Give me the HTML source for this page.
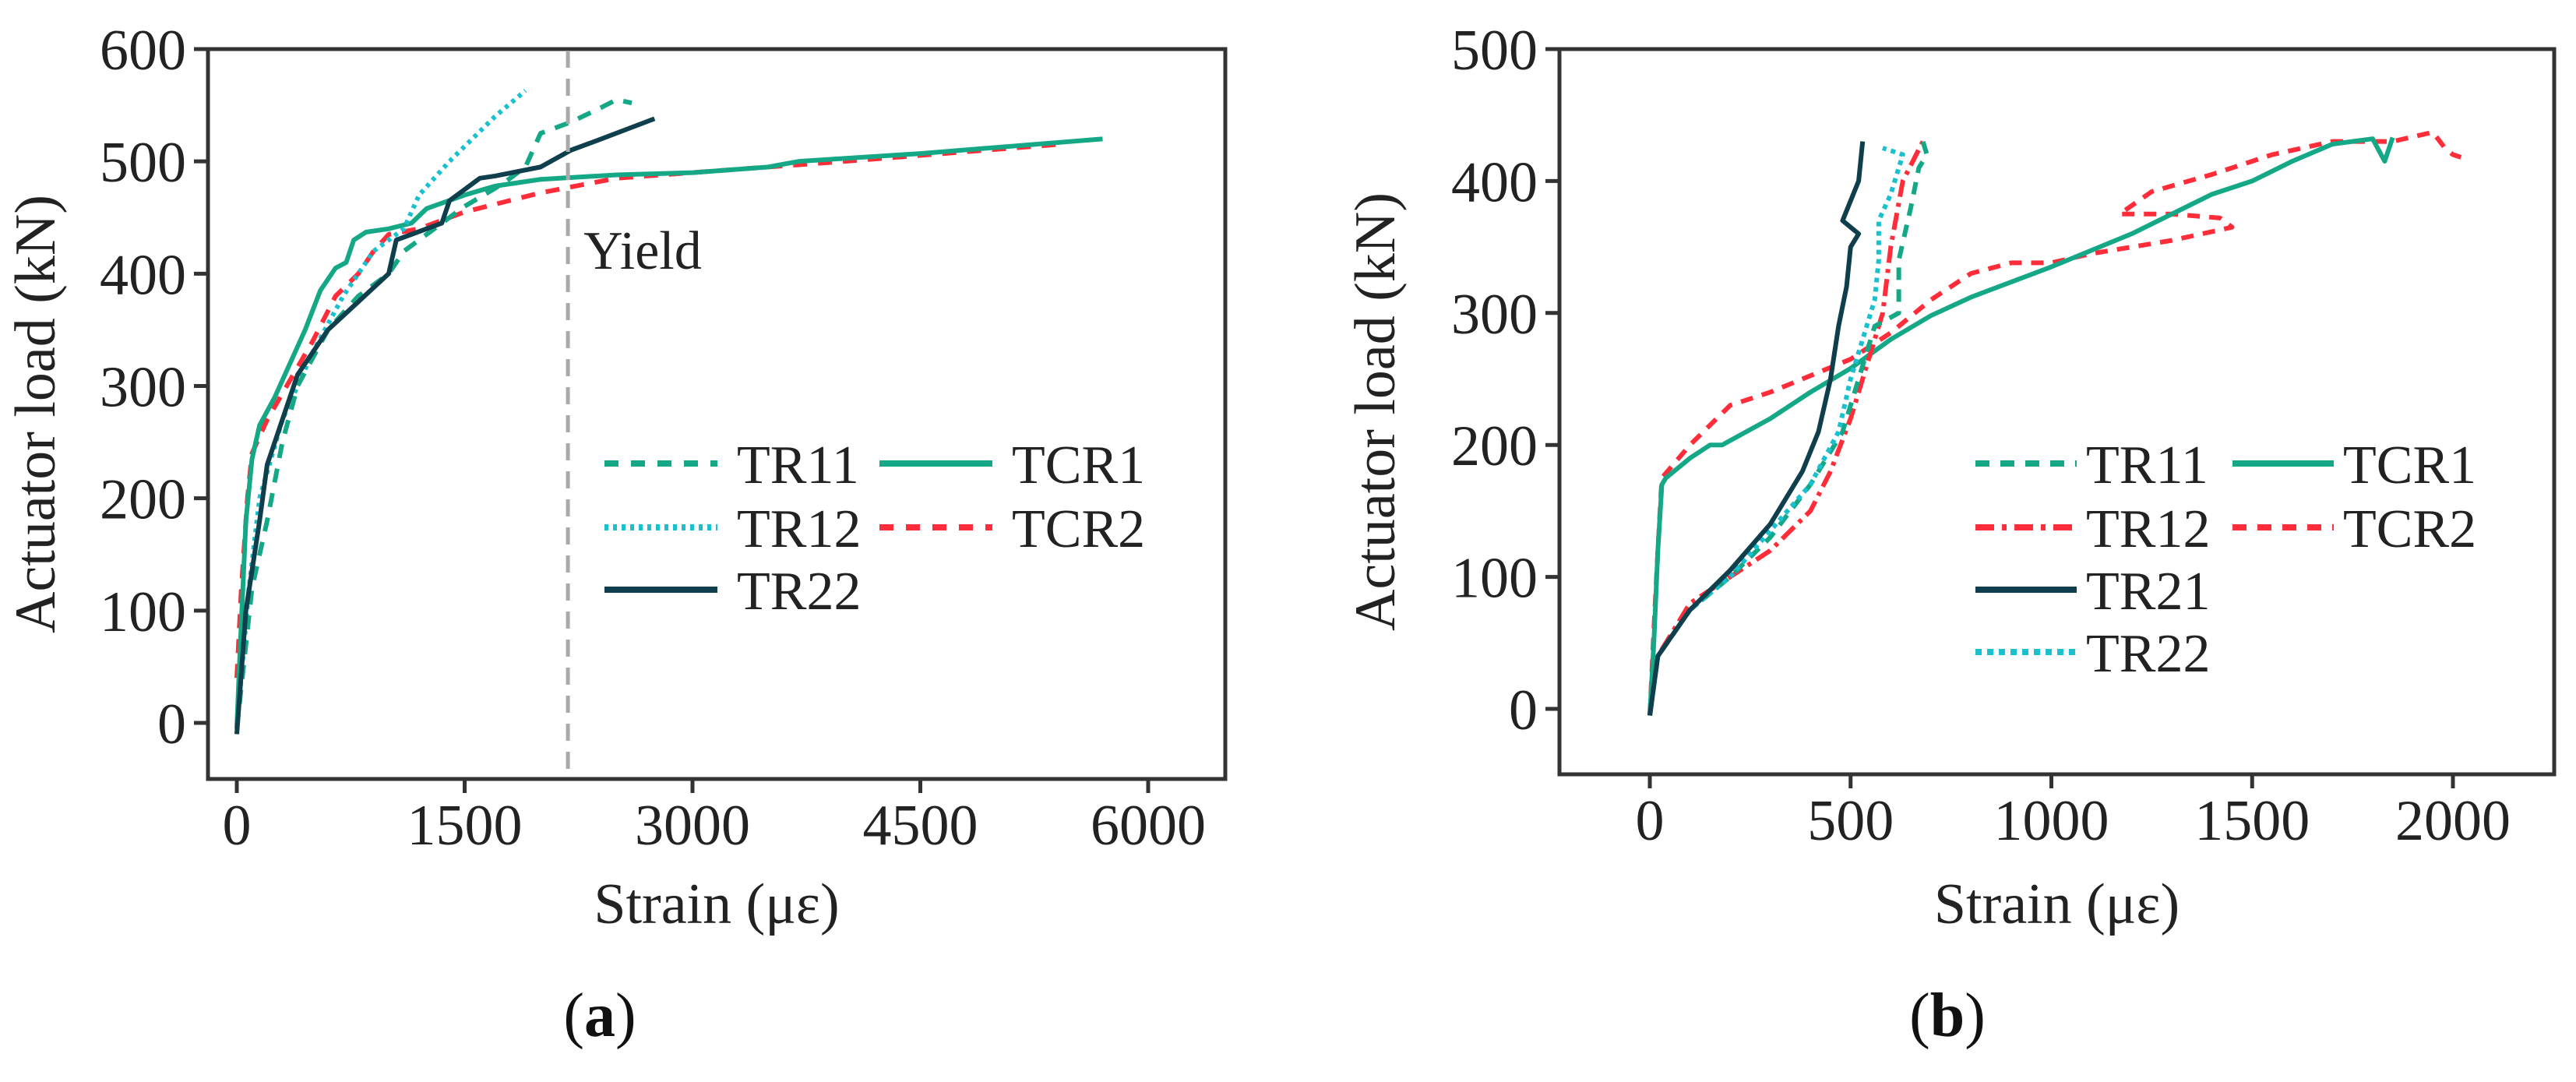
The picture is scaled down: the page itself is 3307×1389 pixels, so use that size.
<!DOCTYPE html>
<html><head><meta charset="utf-8">
<style>
html,body{margin:0;padding:0;background:#fff;}
svg{display:block;font-family:"Liberation Serif",serif;}
</style></head>
<body>
<svg id="fig" width="3307" height="1389" viewBox="0 0 3307 1389" xmlns="http://www.w3.org/2000/svg"></svg>
<script>
// ---------- Panel (a) data ----------
const aXTicks = [0,1500,3000,4500,6000];
const aYTicks = [0,100,200,300,400,500,600];
const aYield = 2180;
const aTR11 = [[0,-5],[100,120],[200,180],[300,250],[400,300],[600,350],[800,380],[1000,400],[1100,420],[1300,440],[1500,460],[1750,480],[1900,495],[2000,525],[2200,535],[2400,548],[2500,555],[2600,552]];
const aTR12 = [[0,-5],[80,120],[150,200],[300,270],[500,330],[700,380],[900,420],[1100,440],[1200,470],[1400,500],[1550,520],[1700,540],[1900,563]];
const aTR22 = [[0,-10],[60,100],[150,180],[200,230],[300,270],[400,310],[600,350],[800,375],[1000,400],[1050,430],[1150,435],[1350,445],[1400,465],[1600,485],[1700,487],[2000,495],[2200,510],[2400,520],[2750,538]];
const aTCR1 = [[0,-5],[20,60],[60,180],[100,235],[150,265],[250,290],[350,320],[450,350],[550,385],[650,405],[720,410],[770,430],[850,437],[1000,440],[1150,445],[1250,458],[1500,470],[1700,478],[2000,484],[2500,488],[3000,490],[3500,495],[3700,500],[4500,507],[5700,520]];
const aTCR2 = [[0,40],[30,120],[70,200],[100,240],[200,270],[350,305],[500,340],[650,380],[800,400],[900,420],[1000,435],[1200,440],[1500,455],[2000,472],[2500,485],[3000,490],[4000,500],[5400,515]];
// ---------- Panel (b) data ----------
const bXTicks = [0,500,1000,1500,2000];
const bYTicks = [0,100,200,300,400,500];
const bTR11 = [[0,-5],[20,40],[100,75],[200,100],[300,130],[400,170],[480,210],[520,250],[560,290],[620,300],[620,340],[650,380],[670,410],[690,420],[680,430]];
const bTR12 = [[0,-5],[20,40],[100,80],[200,100],[300,120],[400,150],[450,180],[500,220],[550,270],[580,300],[600,350],[630,400],[680,430]];
const bTR21 = [[0,-5],[20,40],[100,75],[200,105],[300,140],[380,180],[420,210],[450,250],[470,290],[490,320],[500,350],[520,360],[480,370],[500,385],[520,400],[530,430]];
const bTR22 = [[0,-5],[20,40],[100,75],[200,100],[300,135],[400,170],[470,210],[500,250],[530,280],[560,310],[570,340],[570,370],[600,390],[630,420],[580,425]];
const bTCR1 = [[0,-5],[10,50],[20,120],[30,170],[40,175],[100,190],[150,200],[180,200],[300,220],[400,240],[500,258],[600,280],[700,298],[800,312],[1000,335],[1200,360],[1400,390],[1500,400],[1600,415],[1700,428],[1800,432],[1830,415],[1850,433]];
const bTCR2 = [[0,-5],[10,60],[20,120],[30,175],[100,200],[200,230],[300,240],[500,265],[600,285],[700,310],[800,330],[900,338],[1000,338],[1100,345],[1200,350],[1300,355],[1450,365],[1420,372],[1300,375],[1170,375],[1250,392],[1400,405],[1550,420],[1700,430],[1850,430],[1950,437],[1980,425],[2000,420],[2020,418]];

const GREEN="#14a886", RED="#ff2d3a", CYAN="#19c0d0", DARK="#0f3f4c";
const NS="http://www.w3.org/2000/svg";
const svg=document.getElementById('fig');
function el(tag,attrs,parent){const e=document.createElementNS(NS,tag);for(const k in attrs)e.setAttribute(k,attrs[k]);(parent||svg).appendChild(e);return e;}

function panel(cfg){
  const g=el('g',{});
  
  
  const sx=v=>cfg.x0+v*cfg.kx, sy=v=>cfg.y0-v*cfg.ky;
  const fr=el('rect',{x:cfg.L,y:cfg.T,width:cfg.R-cfg.L,height:cfg.B-cfg.T,fill:'none',stroke:'#333','stroke-width':5},g);
  
  
  cfg.xt.forEach(v=>{
    const t=el('line',{x1:sx(v),x2:sx(v),y1:cfg.B,y2:cfg.B+18,stroke:'#333','stroke-width':5},g);
    
    
    const tx=el('text',{x:sx(v),y:cfg.B+84,'font-size':74,'text-anchor':'middle',fill:'#222'},g);
    tx.textContent=v;
    
    
  });
  cfg.yt.forEach(v=>{
    const t=el('line',{x1:cfg.L-18,x2:cfg.L,y1:sy(v),y2:sy(v),stroke:'#333','stroke-width':5},g);
    
    
    const tx=el('text',{x:cfg.L-28,y:sy(v)+26,'font-size':74,'text-anchor':'end',fill:'#222'},g);
    tx.textContent=v;
    
    
  });
  const xt=el('text',{x:(cfg.L+cfg.R)/2,y:1185,'font-size':74,'text-anchor':'middle',fill:'#222'},g);
  xt.textContent='Strain (με)';
  
  
  const yt=el('text',{x:0,y:0,'font-size':74,'text-anchor':'middle',fill:'#222',transform:`translate(${cfg.ytx},${(cfg.T+cfg.B)/2}) rotate(-90)`},g);
  yt.textContent='Actuator load (kN)';
  
  
  const cap=el('text',{x:cfg.capx,y:1330,'font-size':80,'text-anchor':'middle',fill:'#111'},g);
  cap.innerHTML='(<tspan font-weight="bold">'+cfg.cap+'</tspan>)';
  
  
  cfg.series.forEach(s=>{
    const p=el('polyline',{points:s.d.map(q=>sx(q[0])+','+sy(q[1])).join(' '),fill:'none',stroke:s.c,'stroke-width':6,'stroke-linejoin':'round','stroke-dasharray':s.dash||'none'},g);
    
    
  });
  cfg.legend.forEach(l=>{
    const ln=el('line',{x1:l.x,x2:l.x+cfg.lw,y1:l.y,y2:l.y,stroke:l.c,'stroke-width':8,'stroke-dasharray':l.dash||'none'},g);
    
    
    const t=el('text',{x:l.x+cfg.lt,y:l.y+25,'font-size':70,fill:'#222'},g);
    t.textContent=l.n;
    
    
  });
  return {g,sx,sy};
}

const A=panel({name:'chart-a',L:267,R:1573,T:63,B:1000,x0:304,kx:1170/6000,y0:928,ky:865/600,xt:aXTicks,yt:aYTicks,ytx:70,capx:770,cap:'a',lw:145,lt:170,
  series:[
    {n:'TCR2',d:aTCR2,c:RED,dash:'18 14'},
    {n:'TCR1',d:aTCR1,c:GREEN},
    {n:'TR12',d:aTR12,c:CYAN,dash:'5 6'},
    {n:'TR11',d:aTR11,c:GREEN,dash:'18 14'},
    {n:'TR22',d:aTR22,c:DARK}],
  legend:[
    {n:'TR11',x:776,y:595,c:GREEN,dash:'18 16'},
    {n:'TR12',x:776,y:677,c:CYAN,dash:'5 6'},
    {n:'TR22',x:776,y:757,c:DARK},
    {n:'TCR1',x:1129,y:595,c:GREEN},
    {n:'TCR2',x:1129,y:677,c:RED,dash:'18 16'}]});
// yield line
const yl=el('line',{x1:A.sx(aYield),x2:A.sx(aYield),y1:65,y2:998,stroke:'#aaa','stroke-width':5,'stroke-dasharray':'22 14'},A.g);


const ylt=el('text',{x:A.sx(aYield)+20,y:345,'font-size':70,fill:'#222'},A.g);
ylt.textContent='Yield';



panel({name:'chart-b',L:2002,R:3279,T:63,B:994,x0:2118,kx:1031/2000,y0:910,ky:847/500,xt:bXTicks,yt:bYTicks,ytx:1790,capx:2500,cap:'b',lw:130,lt:142,
  series:[
    {n:'TCR2',d:bTCR2,c:RED,dash:'16 12'},
    {n:'TCR1',d:bTCR1,c:GREEN},
    {n:'TR12',d:bTR12,c:RED,dash:'22 8 5 8'},
    {n:'TR11',d:bTR11,c:GREEN,dash:'16 12'},
    {n:'TR22',d:bTR22,c:CYAN,dash:'6 6'},
    {n:'TR21',d:bTR21,c:DARK}],
  legend:[
    {n:'TR11',x:2536,y:595,c:GREEN,dash:'18 14'},
    {n:'TR12',x:2536,y:677,c:RED,dash:'24 10 6 10'},
    {n:'TR21',x:2536,y:757,c:DARK},
    {n:'TR22',x:2536,y:837,c:CYAN,dash:'8 7'},
    {n:'TCR1',x:2866,y:595,c:GREEN},
    {n:'TCR2',x:2866,y:677,c:RED,dash:'18 14'}]});
</script>
</body></html>
